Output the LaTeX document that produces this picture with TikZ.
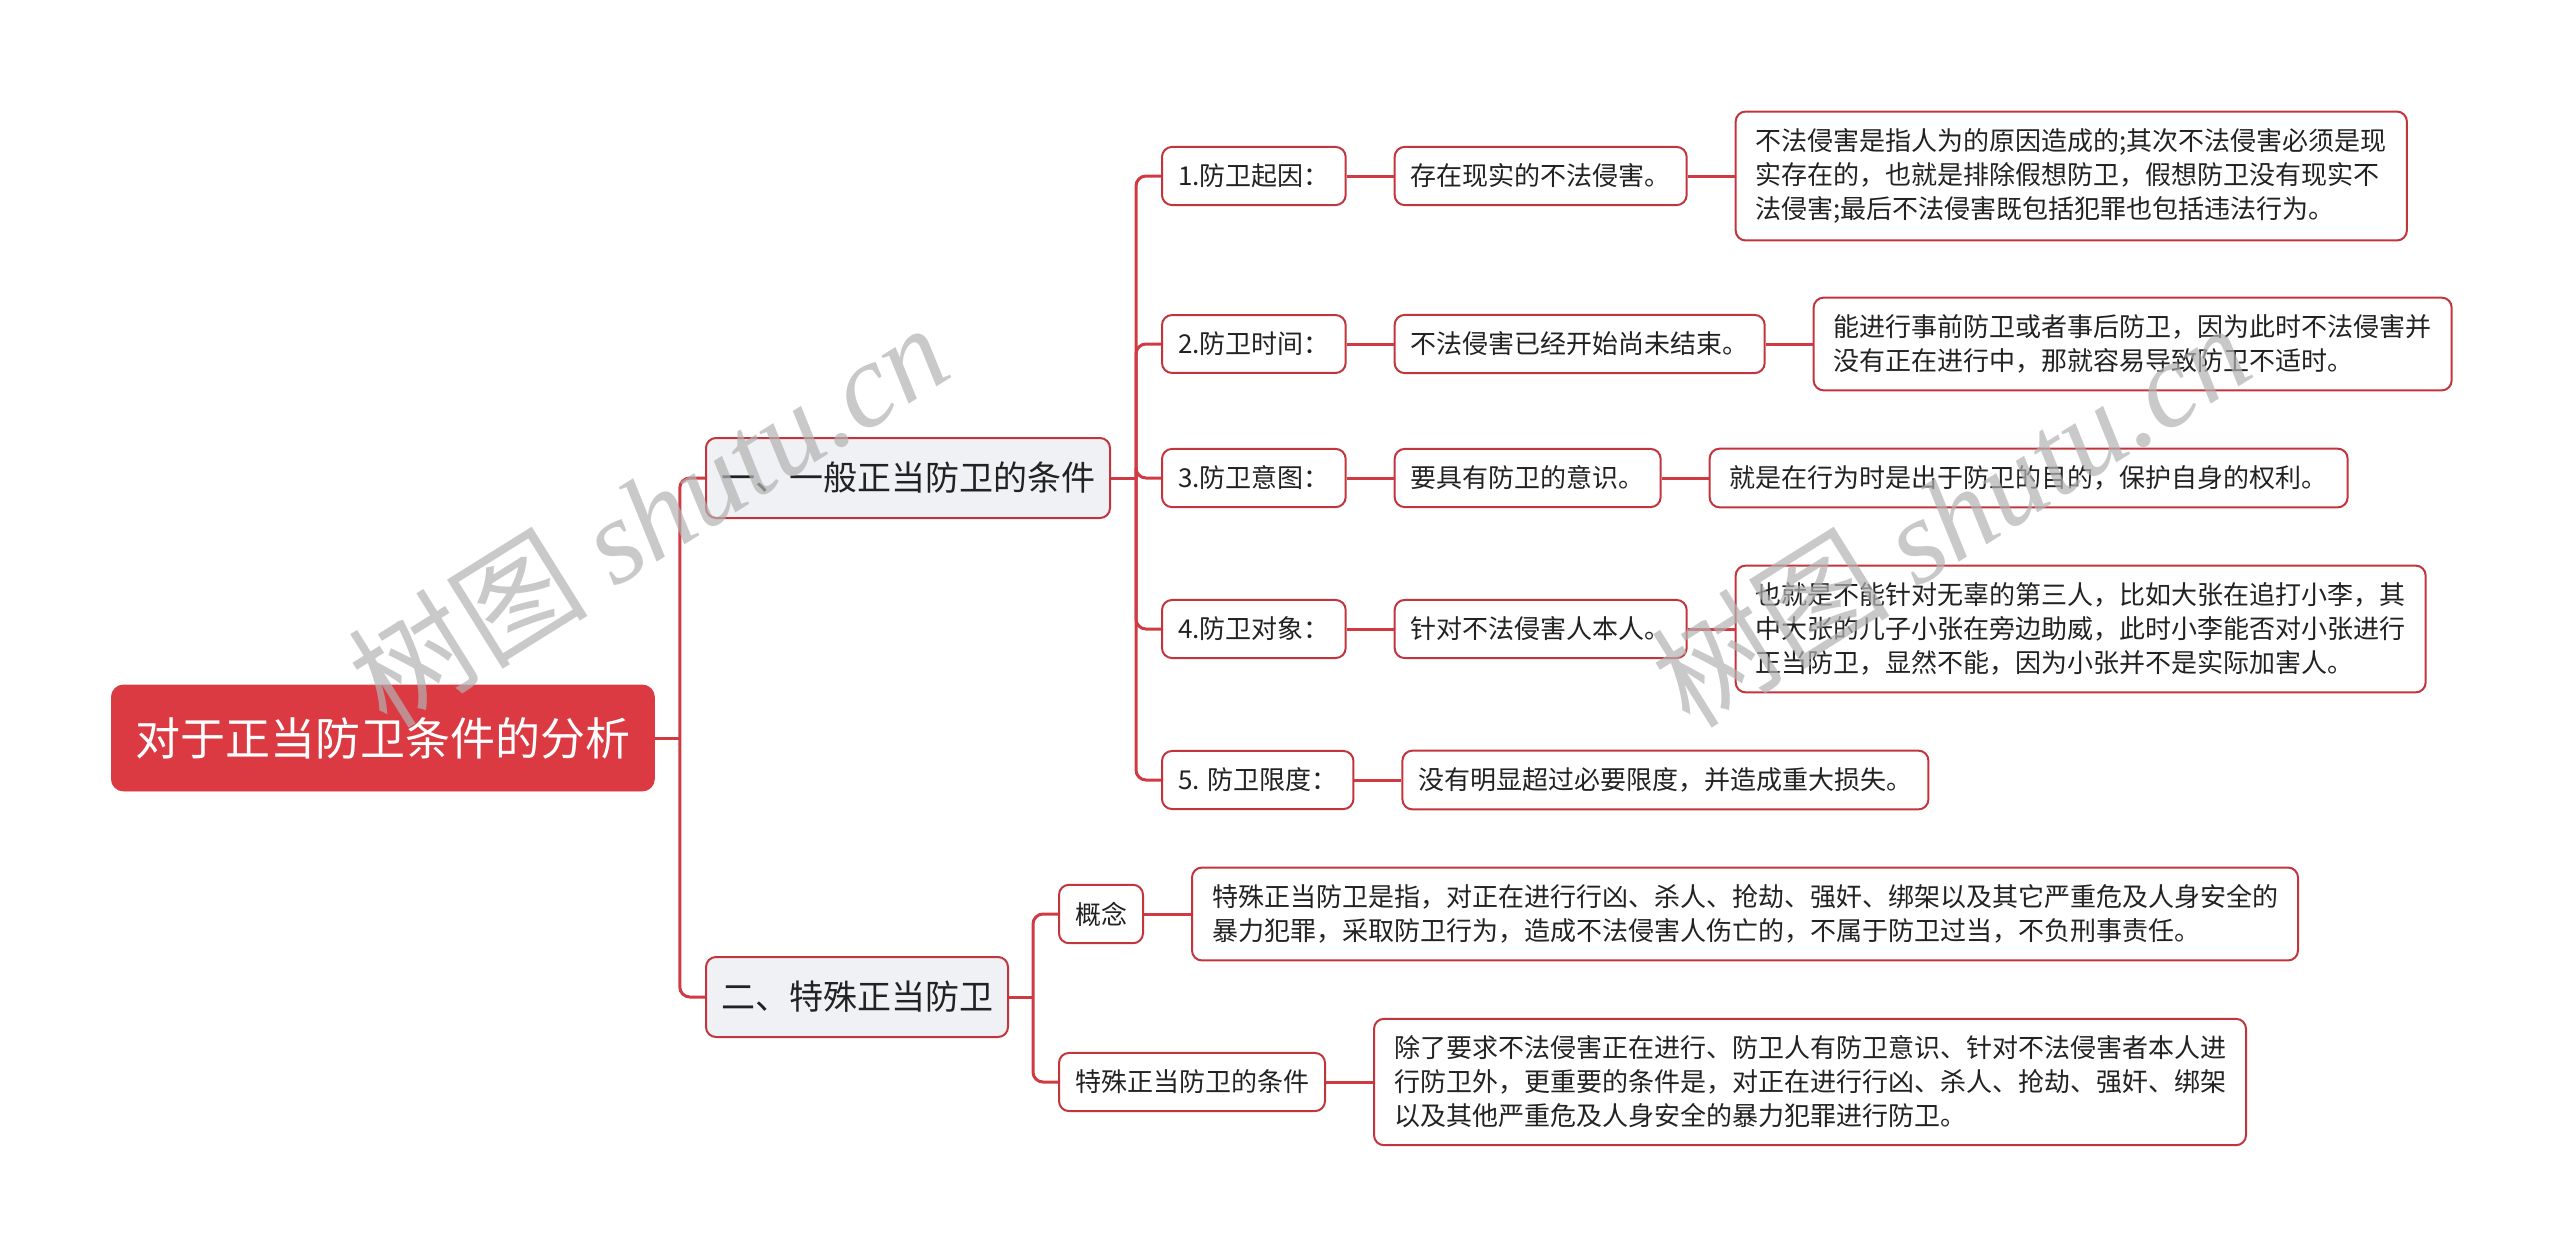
\documentclass[tikz,border=0pt]{standalone}
\usepackage{fontspec}
\setmainfont{Noto Sans CJK SC}
\newfontfamily\wmfont{Liberation Serif}
\usetikzlibrary{positioning,calc}
\definecolor{rootred}{HTML}{DC3A43}
\definecolor{linkred}{HTML}{D03A42}
\definecolor{edgered}{HTML}{C2353D}
\definecolor{branchgray}{HTML}{EFF1F5}
\definecolor{inkgray}{HTML}{222222}

\begin{document}
\begin{tikzpicture}[
  x=0.5pt, y=-0.5pt,
  node distance=23.5pt,
  rootbox/.style={draw=rootred, fill=rootred, rounded corners=6pt, text=white, font=\fontsize{22.5}{27}\selectfont, minimum height=53pt, inner xsep=12pt, anchor=west},
  branchbox/.style={draw=edgered, line width=1pt, fill=branchgray, rounded corners=5pt, text=inkgray, font=\fontsize{17}{20}\selectfont, minimum height=40pt, inner xsep=7.5pt, anchor=west},
  leafbox/.style={draw=edgered, line width=1pt, fill=white, rounded corners=5pt, text=inkgray, font=\fontsize{13}{17}\selectfont, align=left, inner xsep=8pt, inner ysep=8.5pt, anchor=west},
  notebox/.style={leafbox, inner xsep=10pt},
  link/.style={draw=linkred, line width=1.5pt, rounded corners=5pt},
  watermark/.style={text=gray!60, opacity=0.7, rotate=32, font=\fontsize{60}{60}\selectfont}
]
\useasboundingbox (0,0) rectangle (2560,1259);

% Root
\node[rootbox] (root) at (111,738) {对于正当防卫条件的分析};

% Level 1
\node[branchbox] (gen) at (705,478) {一、一般正当防卫的条件};
\node[branchbox] (spe) at (705,997) {二、特殊正当防卫};

% Level 2 (general)
\node[leafbox] (c1) at (1161,176) {1.防卫起因：};
\node[leafbox] (c2) at (1161,344) {2.防卫时间：};
\node[leafbox] (c3) at (1161,478) {3.防卫意图：};
\node[leafbox] (c4) at (1161,629) {4.防卫对象：};
\node[leafbox] (c5) at (1161,780) {5. 防卫限度：};

\node[leafbox, right=of c1] (d1) {存在现实的不法侵害。};
\node[leafbox, right=of c2] (d2) {不法侵害已经开始尚未结束。};
\node[leafbox, right=of c3] (d3) {要具有防卫的意识。};
\node[leafbox, right=of c4] (d4) {针对不法侵害人本人。};
\node[leafbox, right=of c5] (d5) {没有明显超过必要限度，并造成重大损失。};

\node[notebox, right=of d1] (e1) {不法侵害是指人为的原因造成的;其次不法侵害必须是现\\实存在的，也就是排除假想防卫，假想防卫没有现实不\\法侵害;最后不法侵害既包括犯罪也包括违法行为。};
\node[notebox, right=of d2] (e2) {能进行事前防卫或者事后防卫，因为此时不法侵害并\\没有正在进行中，那就容易导致防卫不适时。};
\node[notebox, right=of d3] (e3) {就是在行为时是出于防卫的目的，保护自身的权利。};
\node[notebox, right=of d4] (e4) {也就是不能针对无辜的第三人，比如大张在追打小李，其\\中大张的儿子小张在旁边助威，此时小李能否对小张进行\\正当防卫，显然不能，因为小张并不是实际加害人。};

% Level 2 (special)
\node[leafbox] (f1) at (1058,914) {概念};
\node[leafbox] (f2) at (1058,1082) {特殊正当防卫的条件};

\node[notebox, right=of f1] (g1) {特殊正当防卫是指，对正在进行行凶、杀人、抢劫、强奸、绑架以及其它严重危及人身安全的\\暴力犯罪，采取防卫行为，造成不法侵害人伤亡的，不属于防卫过当，不负刑事责任。};
\node[notebox, right=of f2] (g2) {除了要求不法侵害正在进行、防卫人有防卫意识、针对不法侵害者本人进\\行防卫外，更重要的条件是，对正在进行行凶、杀人、抢劫、强奸、绑架\\以及其他严重危及人身安全的暴力犯罪进行防卫。};

% Connectors
\coordinate (rj) at ($(root.east)+(25,0)$);
\draw[link] (root.east) -- (rj);
\draw[link] (rj) |- (gen.west);
\draw[link] (rj) |- (spe.west);

\coordinate (gj) at ($(gen.east)+(25,0)$);
\draw[link] (gen.east) -- (gj);
\foreach \n in {c1,c2,c3,c4,c5}
  \draw[link] (gj) |- (\n.west);

\coordinate (sj) at ($(spe.east)+(24,0)$);
\draw[link] (spe.east) -- (sj);
\draw[link] (sj) |- (f1.west);
\draw[link] (sj) |- (f2.west);

\foreach \a/\b in {c1/d1,c2/d2,c3/d3,c4/d4,c5/d5,d1/e1,d2/e2,d3/e3,d4/e4,f1/g1,f2/g2}
  \draw[link] (\a.east) -- (\b.west);

% Watermark
\node[watermark] (wm1) at (648,514) {树图 {\wmfont\itshape shutu.cn}};
\node[watermark] (wm2) at (1950,514) {树图 {\wmfont\itshape shutu.cn}};

\end{tikzpicture}
\end{document}
